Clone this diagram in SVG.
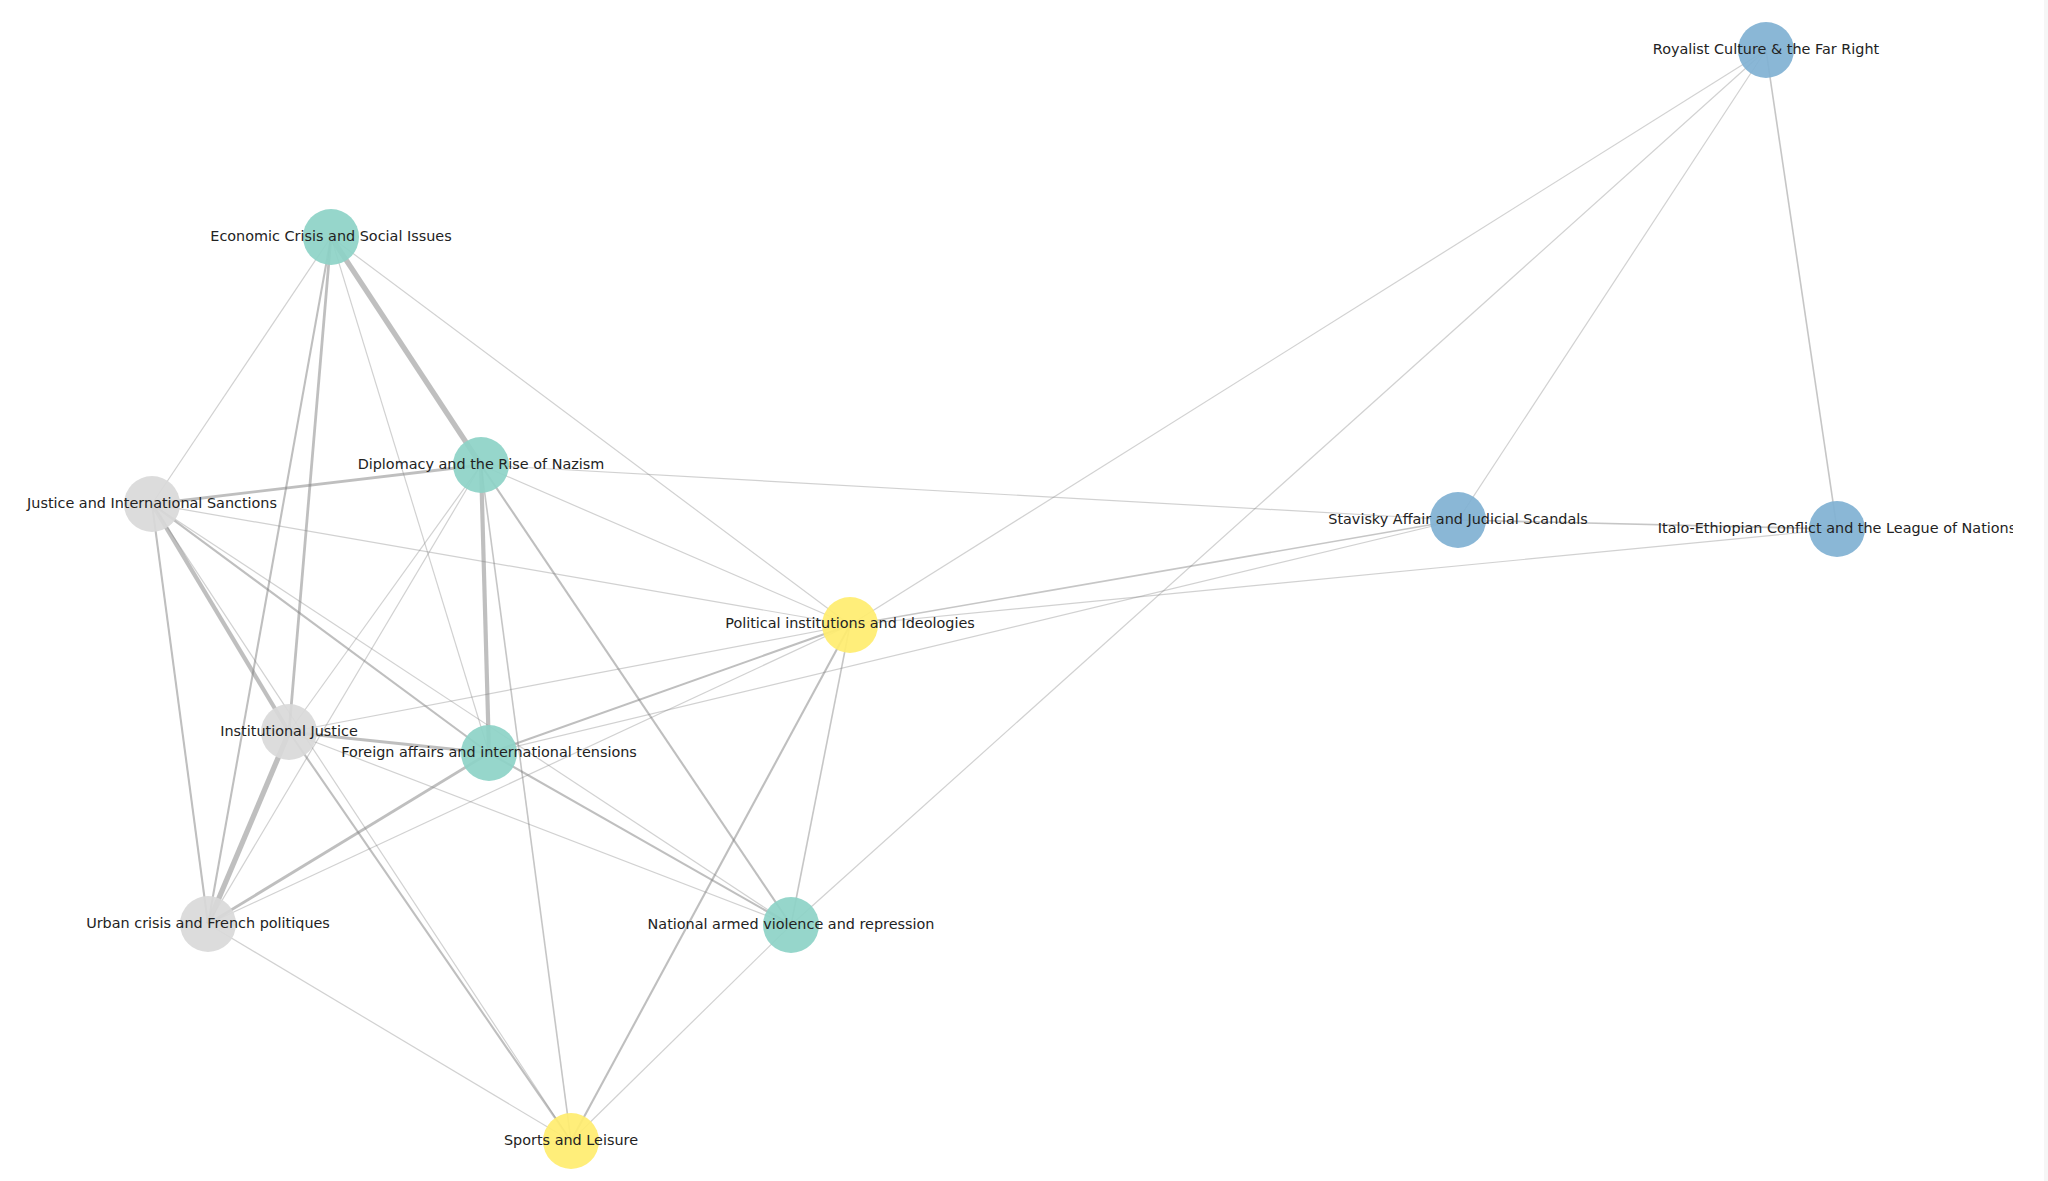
<svg xmlns="http://www.w3.org/2000/svg" width="2048" height="1181" viewBox="0 0 2048 1181">
<defs>
<style>
.e{stroke:#808080;stroke-opacity:0.5;fill:none;stroke-linecap:butt}
.w1{stroke-width:1.2;stroke-opacity:0.36}
.w15{stroke-width:1.6;stroke-opacity:0.45}
.w2{stroke-width:2.1}
.w3{stroke-width:2.8}
.w4{stroke-width:4.2}
.w5{stroke-width:5.3}
.n{stroke:none;fill-opacity:0.92}
.teal{fill:#8dd3c7}
.gray{fill:#d9d9d9}
.yel{fill:#ffed6f}
.blue{fill:#80b1d3}
.lbl{font-family:"DejaVu Sans","Liberation Sans",sans-serif;font-size:14.4px;fill:#222;text-anchor:middle;dominant-baseline:central}
</style>
<clipPath id="fig"><rect x="0" y="0" width="2013" height="1181"/></clipPath>
</defs>
<rect x="0" y="0" width="2048" height="1181" fill="#ffffff"/>
<rect x="2044" y="0" width="4" height="1181" fill="#f6f6f6"/>
<g clip-path="url(#fig)">
<g id="connectors">
<line class="e w5" x1="331" y1="237" x2="481" y2="465"/>
<line class="e w5" x1="289" y1="732" x2="208" y2="924"/>
<line class="e w4" x1="152" y1="504" x2="289" y2="732"/>
<line class="e w4" x1="481" y1="465" x2="489" y2="753"/>
<line class="e w3" x1="208" y1="924" x2="489" y2="753"/>
<line class="e w3" x1="289" y1="732" x2="489" y2="753"/>
<line class="e w3" x1="331" y1="237" x2="289" y2="732"/>
<line class="e w3" x1="152" y1="504" x2="481" y2="465"/>
<line class="e w2" x1="489" y1="753" x2="850" y2="625"/>
<line class="e w2" x1="152" y1="504" x2="489" y2="753"/>
<line class="e w2" x1="152" y1="504" x2="208" y2="924"/>
<line class="e w2" x1="481" y1="465" x2="791" y2="925"/>
<line class="e w2" x1="289" y1="732" x2="571" y2="1141"/>
<line class="e w2" x1="850" y1="625" x2="571" y2="1141"/>
<line class="e w2" x1="489" y1="753" x2="791" y2="925"/>
<line class="e w2" x1="331" y1="237" x2="208" y2="924"/>
<line class="e w15" x1="1766" y1="50" x2="1837" y2="529"/>
<line class="e w15" x1="1458" y1="520" x2="1837" y2="529"/>
<line class="e w15" x1="850" y1="625" x2="1458" y2="520"/>
<line class="e w15" x1="481" y1="465" x2="571" y2="1141"/>
<line class="e w15" x1="850" y1="625" x2="791" y2="925"/>
<line class="e w1" x1="331" y1="237" x2="152" y2="504"/>
<line class="e w1" x1="331" y1="237" x2="489" y2="753"/>
<line class="e w1" x1="331" y1="237" x2="850" y2="625"/>
<line class="e w1" x1="481" y1="465" x2="850" y2="625"/>
<line class="e w1" x1="481" y1="465" x2="1458" y2="520"/>
<line class="e w1" x1="481" y1="465" x2="289" y2="732"/>
<line class="e w1" x1="481" y1="465" x2="208" y2="924"/>
<line class="e w1" x1="152" y1="504" x2="850" y2="625"/>
<line class="e w1" x1="152" y1="504" x2="791" y2="925"/>
<line class="e w1" x1="152" y1="504" x2="571" y2="1141"/>
<line class="e w1" x1="289" y1="732" x2="850" y2="625"/>
<line class="e w1" x1="289" y1="732" x2="791" y2="925"/>
<line class="e w1" x1="208" y1="924" x2="850" y2="625"/>
<line class="e w1" x1="208" y1="924" x2="571" y2="1141"/>
<line class="e w1" x1="489" y1="753" x2="1458" y2="520"/>
<line class="e w1" x1="850" y1="625" x2="1837" y2="529"/>
<line class="e w1" x1="850" y1="625" x2="1766" y2="50"/>
<line class="e w1" x1="1766" y1="50" x2="791" y2="925"/>
<line class="e w1" x1="1766" y1="50" x2="1458" y2="520"/>
<line class="e w1" x1="791" y1="925" x2="571" y2="1141"/>
</g>
<g id="node-royalist"><circle class="n blue" cx="1766" cy="50" r="28"/><text class="lbl" x="1766" y="49">Royalist Culture &amp; the Far Right</text></g>
<g id="node-economic"><circle class="n teal" cx="331" cy="237" r="28"/><text class="lbl" x="331" y="236">Economic Crisis and Social Issues</text></g>
<g id="node-diplomacy"><circle class="n teal" cx="481" cy="465" r="28"/><text class="lbl" x="481" y="464">Diplomacy and the Rise of Nazism</text></g>
<g id="node-justice-intl"><circle class="n gray" cx="152" cy="504" r="28"/><text class="lbl" x="152" y="503">Justice and International Sanctions</text></g>
<g id="node-stavisky"><circle class="n blue" cx="1458" cy="520" r="28"/><text class="lbl" x="1458" y="519">Stavisky Affair and Judicial Scandals</text></g>
<g id="node-italo"><circle class="n blue" cx="1837" cy="529" r="28"/><text class="lbl" x="1837" y="528">Italo-Ethiopian Conflict and the League of Nations</text></g>
<g id="node-political"><circle class="n yel" cx="850" cy="625" r="28"/><text class="lbl" x="850" y="623">Political institutions and Ideologies</text></g>
<g id="node-institutional"><circle class="n gray" cx="289" cy="732" r="28"/><text class="lbl" x="289" y="731">Institutional Justice</text></g>
<g id="node-foreign"><circle class="n teal" cx="489" cy="753" r="28"/><text class="lbl" x="489" y="752">Foreign affairs and international tensions</text></g>
<g id="node-urban"><circle class="n gray" cx="208" cy="924" r="28"/><text class="lbl" x="208" y="923">Urban crisis and French politiques</text></g>
<g id="node-national"><circle class="n teal" cx="791" cy="925" r="28"/><text class="lbl" x="791" y="924">National armed violence and repression</text></g>
<g id="node-sports"><circle class="n yel" cx="571" cy="1141" r="28"/><text class="lbl" x="571" y="1140">Sports and Leisure</text></g>
</g>
</svg>
